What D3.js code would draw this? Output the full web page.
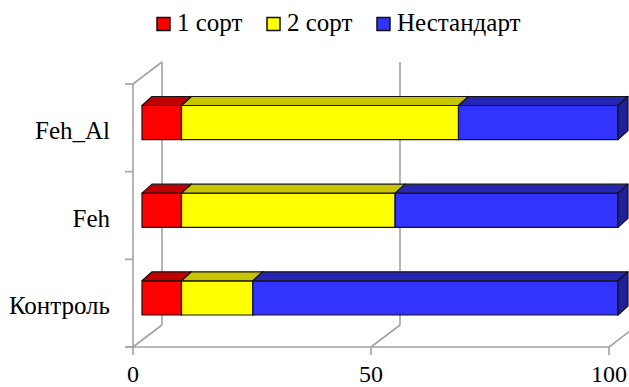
<!DOCTYPE html>
<html>
<head>
<meta charset="utf-8">
<script src="https://cdn.jsdelivr.net/npm/d3@7"></script>
<style>
  #chart text { font-family: "Liberation Serif", "Times New Roman", "Tinos", "DejaVu Serif" !important; }
</style>
</head>
<body style="margin:0">
<svg id="chart" width="629" height="387"></svg>
<script>
// Categories, top to bottom
const categories = ["Feh_Al", "Feh", "Контроль"];
// Series names
const seriesNames = ["1 сорт", "2 сорт", "Нестандарт"];
// Series values (%), in category order
const sort1 = [8.3, 8.3, 8.3];
const sort2 = [58.2, 44.9, 15.0];
const nonStandard = [33.5, 46.8, 76.7];
// X axis tick labels
const xTicks = [0, 50, 100];

const seriesValues = [sort1, sort2, nonStandard];
const frontColors = ["#ff0000", "#ffff00", "#3333ff"];
const topColors = ["#c00000", "#c8c400", "#2626b4"];
const sideColors = ["#a00000", "#a8a400", "#20209a"];

const labelFont = '"Liberation Serif", "Times New Roman", "Tinos", "DejaVu Serif"';

const svg = d3.select("#chart");

// Front plane of the 3D box
const x = d3.scaleLinear().domain([0, 100]).range([133, 609]);
const y = d3.scaleBand().domain(categories).range([84, 347]).padding(0);

// Depth offset of the walls
const wallDx = 29, wallDy = -22;
// Bars sit slightly behind the front plane and have their own depth
const barShift = 9, barDx = 10, barDy = -9;

const grid = "#a3a3a3";
const gw = 1.6;
const g = svg.append("g");

function line(x1, y1, x2, y2) {
  g.append("line").attr("x1", x1).attr("y1", y1).attr("x2", x2).attr("y2", y2)
    .attr("stroke", grid).attr("stroke-width", gw);
}

const y0 = y.range()[0], y1 = y.range()[1];

// Left wall
line(x(0) + wallDx, y0 + wallDy, x(0) + wallDx, y1 + wallDy);
line(x(0), y0, x(0) + wallDx, y0 + wallDy);
line(x(0), y1, x(0) + wallDx, y1 + wallDy);
line(x(0), y0, x(0), y1);

// Gridlines on back wall and floor
xTicks.filter(t => t > 0).forEach(t => {
  line(x(t) + wallDx, y0 + wallDy, x(t) + wallDx, y1 + wallDy);
  line(x(t), y1, x(t) + wallDx, y1 + wallDy);
});

// Floor front edge
line(x(0) - 8, y1, x(100), y1);

// Category ticks on the left axis
const bounds = categories.map(c => y(c)).concat([y1]);
bounds.forEach(b => line(x(0) - 8, b, x(0), b));

// X ticks
xTicks.forEach(t => line(x(t), y1, x(t), y1 + 8));

// X tick labels
svg.append("g").selectAll("text").data(xTicks).join("text")
  .attr("x", d => x(d)).attr("y", 382)
  .attr("text-anchor", "middle").attr("font-size", 24)
  .attr("font-family", labelFont).style("font-family", labelFont)
  .text(d => d);

// Category labels
svg.append("g").selectAll("text").data(categories).join("text")
  .attr("x", 110).attr("y", d => y(d) + y.bandwidth() / 2 + 11)
  .attr("text-anchor", "end").attr("font-size", 25)
  .attr("font-family", labelFont).style("font-family", labelFont)
  .text(d => d);

// Stacked 3D bars
const xb = v => x(v) + barShift;
const bars = svg.append("g");
categories.forEach((cat, ci) => {
  const top = y(cat) + y.bandwidth() * 0.245;
  const h = y.bandwidth() * 0.39;
  const bot = top + h;
  let acc = 0;
  seriesValues.forEach((vals, si) => {
    const a = xb(acc), b = xb(acc + vals[ci]);
    acc += vals[ci];
    const seg = bars.append("g").attr("stroke", "#141414").attr("stroke-width", 1.2)
      .attr("stroke-linejoin", "round");
    // front face
    seg.append("rect").attr("x", a).attr("y", top).attr("width", b - a).attr("height", h)
      .attr("fill", frontColors[si]);
    // top face
    seg.append("polygon")
      .attr("points", [[a, top], [a + barDx, top + barDy], [b + barDx, top + barDy], [b, top]].join(" "))
      .attr("fill", topColors[si]);
    // side face
    seg.append("polygon")
      .attr("points", [[b, top], [b + barDx, top + barDy], [b + barDx, bot + barDy], [b, bot]].join(" "))
      .attr("fill", sideColors[si]);
  });
});

// Legend
const legendX = [157, 267, 377];
const legend = svg.append("g").selectAll("g").data(seriesNames).join("g")
  .attr("transform", (d, i) => `translate(${legendX[i]},17.5)`);
legend.append("rect").attr("width", 13).attr("height", 13)
  .attr("fill", (d, i) => frontColors[i]).attr("stroke", "#111").attr("stroke-width", 1.5);
legend.append("text").attr("x", 20).attr("y", 13.5).attr("font-size", 25)
  .attr("font-family", labelFont).style("font-family", labelFont)
  .text(d => d);
</script>
</body>
</html>
